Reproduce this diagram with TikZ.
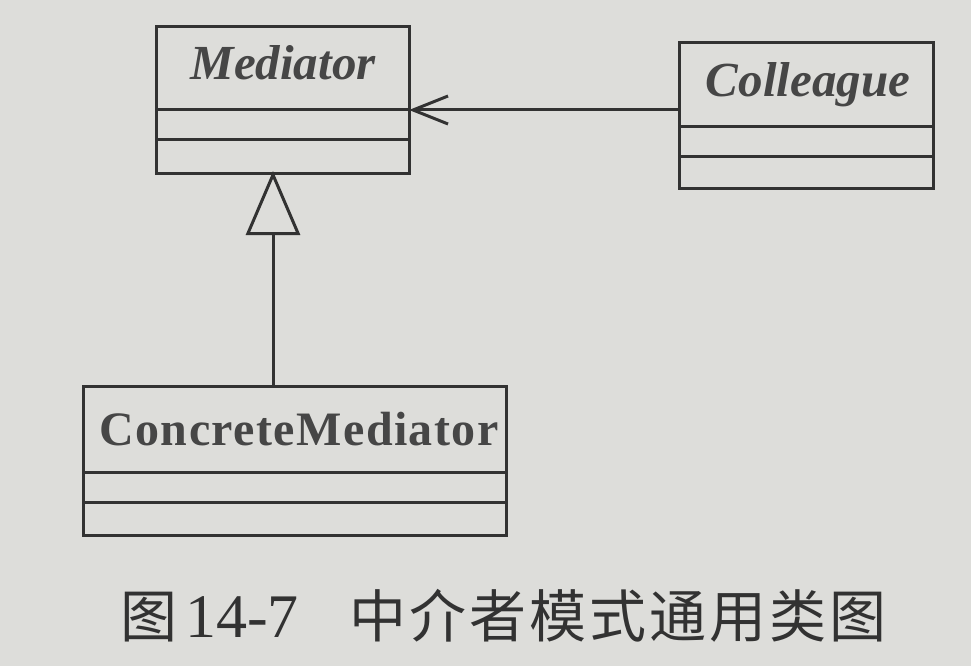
\documentclass[tikz,border=0pt]{standalone}
\usepackage{fontspec}
\setmainfont{Liberation Serif}
\newfontfamily\cjk{Noto Sans CJK SC}
\usetikzlibrary{arrows.meta}
\definecolor{paper}{RGB}{221,221,218}
\definecolor{ink}{RGB}{50,50,50}
\definecolor{inktext}{RGB}{70,70,70}
\tikzset{
  classbox/.style={draw=ink, line width=3pt, rectangle, anchor=north west, inner sep=0pt},
  divider/.style={draw=ink, line width=3pt},
  classname/.style={text=inktext, font=\fontsize{49}{49}\selectfont\bfseries\itshape, anchor=base, inner sep=0pt},
  concretename/.style={text=inktext, font=\fontsize{48}{48}\selectfont\bfseries\addfontfeature{LetterSpace=3}, anchor=base, inner sep=0pt},
  generalize/.style={draw=ink, line width=3pt, shorten >=-4pt, -{Triangle[open, length=64pt, width=54pt, line width=3pt]}},
  associate/.style={draw=ink, line width=3pt, shorten >=-2pt, -{Straight Barb[length=35pt, width=28pt, line width=3pt]}},
  caption/.style={text=ink, anchor=base west, inner sep=0pt, font=\fontsize{57}{57}\selectfont}
}
\newcommand{\gap}{\hspace{3pt}}
\begin{document}
\begin{tikzpicture}[x=1pt, y=-1pt]
  % page background
  \fill[paper] (0,0) rectangle (971,666);
  \useasboundingbox (0,0) rectangle (971,666);

  % abstract mediator
  \node[classbox, minimum width=253pt, minimum height=147pt] (med) at (155,25) {};
  \draw[divider] (med.west |- 0,110) -- (med.east |- 0,110);
  \draw[divider] (med.west |- 0,139) -- (med.east |- 0,139);
  \node[classname] (medname) at (283,80) {Mediator};

  % abstract colleague
  \node[classbox, minimum width=254pt, minimum height=146pt] (col) at (678,41) {};
  \draw[divider] (col.west |- 0,127) -- (col.east |- 0,127);
  \draw[divider] (col.west |- 0,156) -- (col.east |- 0,156);
  \node[classname] (colname) at (808,97) {Colleague};

  % concrete mediator
  \node[classbox, minimum width=423pt, minimum height=149pt] (cm) at (82,385) {};
  \draw[divider] (cm.west |- 0,472) -- (cm.east |- 0,472);
  \draw[divider] (cm.west |- 0,502) -- (cm.east |- 0,502);
  \node[concretename] (cmname) at (299,445) {ConcreteMediator};

  % relations
  \draw[generalize] (cm.north -| 273,0) -- (med.south -| 273,0);
  \draw[associate] (col.west |- 0,110) -- (med.east |- 0,110);

  % figure caption
  \node[caption] (capnum) at (120,637) {{\cjk 图}\fontsize{62}{62}\selectfont\hspace{8pt}14-7};
  \node[caption] (captext) at (349,637) {\cjk 中\gap 介\gap 者\gap 模\gap 式\gap 通\gap 用\gap 类\gap 图};
\end{tikzpicture}
\end{document}
